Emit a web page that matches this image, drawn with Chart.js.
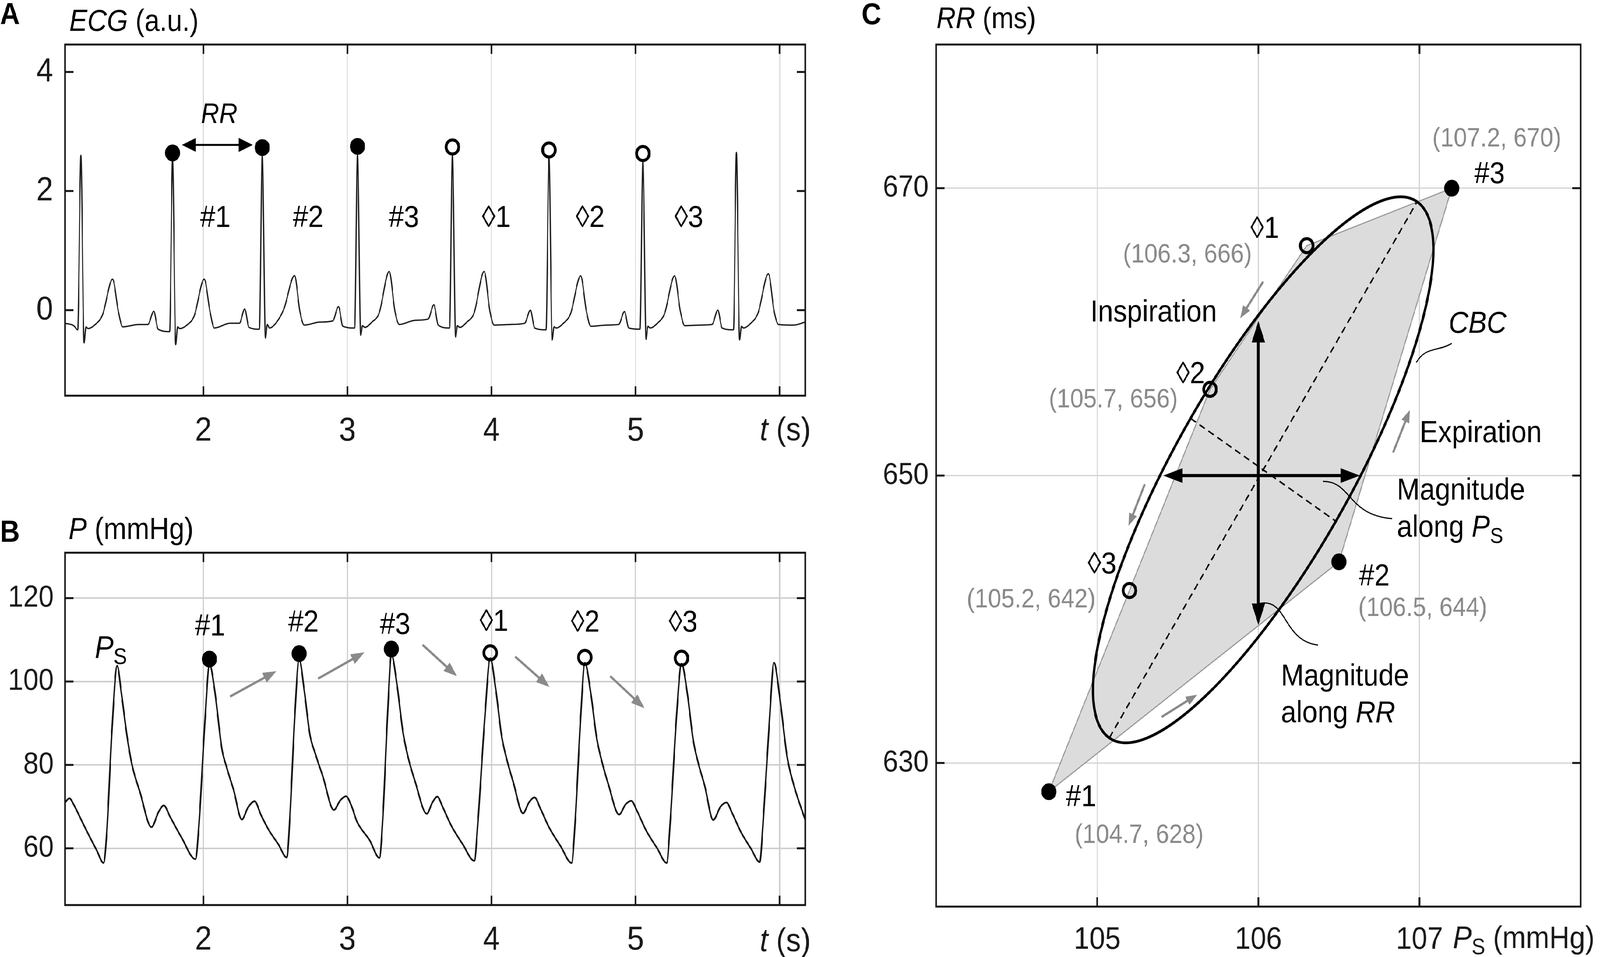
<!DOCTYPE html>
<html>
<head>
<meta charset="utf-8">
<script src="https://cdn.jsdelivr.net/npm/chart.js@4.4.1/dist/chart.umd.min.js"></script>
<style>
  html, body { margin: 0; padding: 0; background: #fff; overflow: hidden; }
  #page { width: 4550px; height: 2450px; position: relative; transform-origin: 0 0; }
  canvas { position: absolute; }
</style>
</head>
<body>
<div id="page">
<canvas id="ecg" width="2360" height="1200" style="left:0;top:0"></canvas>
<canvas id="bp" width="2360" height="1220" style="left:0;top:1230px"></canvas>
<canvas id="cbc" width="2170" height="2450" style="left:2380px;top:0"></canvas>
</div>
<script>
const FONT = '"Liberation Sans", Arial, Helvetica, sans-serif';
Chart.defaults.font.family = FONT;
Chart.defaults.color = '#1a1a1a';

// keep the whole figure in view if the window is not exactly 4550 x 2450
(function () {
  const sx = window.innerWidth / 4550, sy = window.innerHeight / 2450;
  if (Math.abs(sx - 1) > 0.01 || Math.abs(sy - 1) > 0.01) {
    document.getElementById('page').style.transform = 'scale(' + sx + ',' + sy + ')';
  }
})();

/* A: ECG trace */
const ecgT = [1.040, 1.100, 1.128,
  1.150, 1.172, 1.185, 1.200, 1.250, 1.300, 1.370, 1.410, 1.440, 1.550, 1.615,
  1.656, 1.686, 1.766,
  1.786, 1.808, 1.821, 1.836, 1.886, 1.936, 2.006, 2.046, 2.076, 2.186, 2.250,
  2.287, 2.317, 2.389,
  2.409, 2.431, 2.444, 2.459, 2.509, 2.559, 2.633, 2.670, 2.700, 2.810, 2.898,
  2.938, 2.968, 3.050,
  3.070, 3.092, 3.105, 3.120, 3.170, 3.220, 3.290, 3.330, 3.360, 3.470, 3.560,
  3.600, 3.630, 3.709,
  3.729, 3.751, 3.764, 3.779, 3.829, 3.879, 3.949, 3.989, 4.019, 4.130, 4.230,
  4.270, 4.300, 4.379,
  4.399, 4.421, 4.434, 4.449, 4.499, 4.549, 4.619, 4.659, 4.689, 4.800, 4.883,
  4.923, 4.953, 5.031,
  5.051, 5.073, 5.086, 5.101, 5.151, 5.201, 5.271, 5.311, 5.341, 5.450, 5.531,
  5.571, 5.601, 5.680,
  5.700, 5.722, 5.735, 5.750, 5.800, 5.850, 5.922, 5.962, 5.992, 6.100, 6.178];
const ecgV = [-0.22, -0.26, -0.33,
  2.60, -0.55, -0.28, -0.31, -0.24, -0.08, 0.52, -0.02, -0.28, -0.24, -0.24,
  -0.02, -0.32, -0.36,
  2.54, -0.58, -0.28, -0.31, -0.25, -0.10, 0.52, -0.02, -0.30, -0.22, -0.22,
  0.02, -0.29, -0.32,
  2.61, -0.47, -0.24, -0.30, -0.20, 0.02, 0.58, -0.02, -0.25, -0.20, -0.18,
  0.06, -0.27, -0.30,
  2.62, -0.42, -0.26, -0.29, -0.20, -0.05, 0.65, -0.02, -0.24, -0.17, -0.15,
  0.09, -0.25, -0.30,
  2.62, -0.45, -0.26, -0.29, -0.20, -0.05, 0.65, -0.02, -0.25, -0.24, -0.22,
  0.00, -0.30, -0.33,
  2.57, -0.50, -0.28, -0.30, -0.22, -0.06, 0.575, -0.02, -0.27, -0.25, -0.24,
  -0.025, -0.30, -0.32,
  2.50, -0.49, -0.27, -0.30, -0.22, -0.06, 0.575, -0.02, -0.26, -0.25, -0.24,
  0.00, -0.30, -0.33,
  2.65, -0.50, -0.27, -0.30, -0.22, -0.05, 0.61, -0.02, -0.24, -0.25, -0.20];
const timeTicks = [2, 3, 4, 5, 6];
const ecgTicks = [0, 2, 4];
const beatLabels = ['#1', '#2', '#3', '\u25CA1', '\u25CA2', '\u25CA3'];
const beatFilled = [true, true, true, false, false, false];
const rPeakT = [1.786, 2.409, 3.070, 3.729, 4.399, 5.051];
const rPeakV = [2.64, 2.73, 2.75, 2.74, 2.69, 2.63];

/* B: arterial pressure */
const bpT = [1.040, 1.070, 1.100, 1.150, 1.200, 1.260, 1.307, 1.330, 1.365, 1.402, 1.430, 1.470, 1.505, 1.560, 1.640, 1.690, 1.725, 1.770, 1.850, 1.945,
  1.970, 2.010, 2.043, 2.079, 2.128, 2.161, 2.210, 2.267, 2.310, 2.356, 2.400, 2.454, 2.520, 2.579,
  2.600, 2.635, 2.665, 2.700, 2.739, 2.780, 2.829, 2.906, 2.950, 2.990, 3.030, 3.065, 3.155, 3.222,
  3.245, 3.280, 3.305, 3.345, 3.385, 3.420, 3.470, 3.551, 3.590, 3.624, 3.660, 3.720, 3.800, 3.881,
  3.905, 3.955, 3.991, 4.030, 4.070, 4.105, 4.150, 4.219, 4.260, 4.299, 4.340, 4.400, 4.480, 4.556,
  4.580, 4.620, 4.648, 4.690, 4.730, 4.765, 4.810, 4.886, 4.930, 4.970, 5.010, 5.070, 5.150, 5.216,
  5.240, 5.285, 5.319, 5.360, 5.400, 5.435, 5.480, 5.539, 5.590, 5.631, 5.670, 5.730, 5.800, 5.862,
  5.885, 5.930, 5.961, 6.000, 6.052, 6.100, 6.178];
const bpV = [71.0, 72.0, 70.5, 67.0, 63.5, 59.5, 56.5, 64.0, 88.0, 103.8, 97.5, 87.0, 80.0, 73.5, 65.1, 68.8, 70.3, 67.5, 62.5, 57.4,
  66.0, 90.0, 104.1, 97.8, 84.0, 79.5, 74.0, 66.9, 69.8, 71.3, 68.0, 64.4, 61.0, 57.8,
  67.0, 92.0, 105.4, 98.0, 87.4, 82.4, 77.3, 69.2, 71.5, 72.5, 70.0, 66.5, 61.9, 57.7,
  67.0, 93.0, 106.5, 99.0, 88.0, 82.0, 76.0, 68.3, 71.0, 72.4, 70.0, 65.5, 61.0, 57.0,
  66.0, 92.0, 105.6, 98.0, 87.0, 81.5, 76.0, 68.4, 71.0, 72.2, 69.5, 65.0, 60.5, 56.5,
  66.0, 92.0, 104.5, 97.0, 86.5, 81.0, 75.5, 68.1, 70.5, 71.4, 69.0, 64.5, 60.0, 56.5,
  66.0, 92.0, 104.3, 97.0, 86.0, 80.5, 75.0, 66.8, 70.0, 71.0, 68.5, 64.0, 60.0, 56.7,
  66.0, 91.0, 104.5, 96.5, 82.0, 75.0, 66.8];
const bpTicks = [60, 80, 100, 120];
const psT = [2.042, 2.665, 3.305, 3.991, 4.648, 5.319];
const psV = [105.4, 106.7, 107.8, 106.9, 105.8, 105.6];

/* C: Ps vs RR loop */
const cbcPs = [104.7, 106.5, 107.2, 106.3, 105.7, 105.2];
const cbcRR = [628, 644, 670, 666, 656, 642];
const cbcOrder = [0, 1, 2, 3, 4, 5, 0];
const psTicks = [105, 106, 107];
const rrTicks = [630, 650, 670];
const ellCenter = [106.03, 650.4];
const ellMajorEnd = [106.985, 669.06];
const ellMinorEnd = [106.481, 646.82];
const magAlongPs = [105.41, 106.63];
const magAlongRR = [639.6, 660.76];

function pts(xs, ys) { return xs.map((v, i) => ({ x: v, y: ys[i] })); }
function setTicks(vals) { return s => { s.ticks = vals.map(v => ({ value: v })); }; }
function fixSize(n) { return s => { if (s.isHorizontal()) s.height = n; else s.width = n; }; }

function rich(ctx, x, y, segs, size, align, color) {
  ctx.save();
  ctx.fillStyle = color;
  ctx.textBaseline = 'alphabetic';
  ctx.textAlign = 'left';
  const parts = segs.map(([s, st]) => {
    const sz = st === 's' ? size * 0.72 : size;
    const f = (st === 'i' ? 'italic ' : '') + sz + 'px ' + FONT;
    ctx.font = f;
    return { s, f, w: ctx.measureText(s).width, dy: st === 's' ? size * 0.2 : 0 };
  });
  const total = parts.reduce((a, p) => a + p.w, 0);
  let cx = align === 'center' ? x - total / 2 : align === 'right' ? x - total : x;
  parts.forEach(p => { ctx.font = p.f; ctx.fillText(p.s, cx, y + p.dy); cx += p.w; });
  ctx.restore();
}
function richC(ctx, x, y, segs, size, align, color) { rich(ctx, x, y + size * 0.36, segs, size, align, color); }

function arrow(ctx, x1, y1, x2, y2, o) {
  const a = Math.atan2(y2 - y1, x2 - x1);
  const cs = Math.cos(a), sn = Math.sin(a);
  ctx.save();
  ctx.strokeStyle = o.color; ctx.fillStyle = o.color;
  ctx.lineWidth = o.lw;
  const back = o.len * 0.7;
  ctx.beginPath();
  ctx.moveTo(o.both ? x1 + back * cs : x1, o.both ? y1 + back * sn : y1);
  ctx.lineTo(x2 - back * cs, y2 - back * sn);
  ctx.stroke();
  const head = (hx, hy, c, s) => {
    ctx.beginPath();
    ctx.moveTo(hx, hy);
    ctx.lineTo(hx - o.len * c + o.hw * s, hy - o.len * s - o.hw * c);
    ctx.lineTo(hx - o.len * c - o.hw * s, hy - o.len * s + o.hw * c);
    ctx.closePath();
    ctx.fill();
  };
  head(x2, y2, cs, sn);
  if (o.both) head(x1, y1, -cs, -sn);
  ctx.restore();
}

// box with inward ticks on all four sides
const frame = {
  id: 'frame',
  afterDraw(chart) {
    const { ctx, chartArea: a, scales: { x, y } } = chart;
    const L = 24;
    ctx.save();
    ctx.strokeStyle = '#151515';
    ctx.lineWidth = 5;
    ctx.strokeRect(a.left, a.top, a.right - a.left, a.bottom - a.top);
    ctx.beginPath();
    x.ticks.forEach(t => {
      const p = x.getPixelForValue(t.value);
      ctx.moveTo(p, a.bottom); ctx.lineTo(p, a.bottom - L);
      ctx.moveTo(p, a.top); ctx.lineTo(p, a.top + L);
    });
    y.ticks.forEach(t => {
      const p = y.getPixelForValue(t.value);
      ctx.moveTo(a.left, p); ctx.lineTo(a.left + L, p);
      ctx.moveTo(a.right, p); ctx.lineTo(a.right - L, p);
    });
    ctx.stroke();
    ctx.restore();
  }
};

function baseOptions(pad, xCfg, yCfg) {
  return {
    animation: false, responsive: false, devicePixelRatio: 1,
    layout: { padding: pad },
    plugins: { legend: { display: false }, tooltip: { enabled: false } },
    scales: { x: xCfg, y: yCfg }
  };
}

function markerSet(xs, ys) {
  return {
    data: pts(xs, ys),
    pointRadius: beatFilled.map(f => f ? 20 : 18),
    pointBackgroundColor: beatFilled.map(f => f ? '#000' : 'rgba(255,255,255,0)'),
    pointBorderColor: '#000',
    pointBorderWidth: beatFilled.map(f => f ? 3 : 8),
    showLine: false
  };
}

/* ---------- Panel A ---------- */
const annotA = {
  id: 'annotA',
  afterDatasetsDraw(chart) {
    const { ctx, scales: { x, y } } = chart;
    arrow(ctx, x.getPixelForValue(1.851), y.getPixelForValue(2.775), x.getPixelForValue(2.343), y.getPixelForValue(2.775),
      { color: '#000', lw: 5, len: 40, hw: 18, both: true });
    richC(ctx, x.getPixelForValue(2.11), y.getPixelForValue(3.31), [['RR', 'i']], 72, 'center', '#000');
    const lx = [2.083, 2.727, 3.392, 4.033, 4.685, 5.37];
    beatLabels.forEach((s, i) => richC(ctx, x.getPixelForValue(lx[i]), y.getPixelForValue(1.58), [[s, '']], 78, 'center', '#000'));
  },
  afterDraw(chart) {
    const { ctx, chartArea: a, scales: { x } } = chart;
    ctx.save(); ctx.fillStyle = '#000'; ctx.font = 'bold 78px ' + FONT; ctx.fillText('A', 0, 62); ctx.restore();
    rich(ctx, 197, 79, [['ECG', 'i'], [' (a.u.)', '']], 77, 'left', '#000');
    rich(ctx, x.getPixelForValue(6) + 16, a.bottom + 114, [['t', 'i'], [' (s)', '']], 84, 'center', '#1a1a1a');
  }
};

new Chart(document.getElementById('ecg'), {
  type: 'scatter',
  data: {
    datasets: [
      markerSet(rPeakT, rPeakV),
      { data: pts(ecgT, ecgV), showLine: true, borderColor: '#1e1e1e', borderWidth: 3.5, pointRadius: 0, cubicInterpolationMode: 'monotone' }
    ]
  },
  options: baseOptions({ top: 114, right: 70, left: 0, bottom: 0 },
    { type: 'linear', min: 1.04, max: 6.178, afterBuildTicks: setTicks(timeTicks), afterFit: fixSize(187),
      border: { display: false }, grid: { color: '#dadada', lineWidth: 3, drawTicks: false },
      ticks: { padding: 40, autoSkip: false, maxRotation: 0, font: { size: 86 }, callback: v => v === 6 ? '' : v } },
    { type: 'linear', min: -1.436, max: 4.46, afterBuildTicks: setTicks(ecgTicks), afterFit: fixSize(185),
      border: { display: false }, grid: { display: false, drawTicks: false },
      ticks: { padding: 34, font: { size: 86 } } }),
  plugins: [frame, annotA]
});

/* ---------- Panel B ---------- */
const annotB = {
  id: 'annotB',
  afterDatasetsDraw(chart) {
    const { ctx, scales: { x, y } } = chart;
    const arrows = [[2.185, 96.4, 2.507, 102.5], [2.796, 100.7, 3.118, 107.0], [3.522, 108.8, 3.760, 101.3],
      [4.164, 106.0, 4.402, 98.7], [4.824, 101.3, 5.062, 93.6]];
    arrows.forEach(r => arrow(ctx, x.getPixelForValue(r[0]), y.getPixelForValue(r[1]), x.getPixelForValue(r[2]), y.getPixelForValue(r[3]),
      { color: '#8a8a8a', lw: 6, len: 38, hw: 14 }));
    richC(ctx, x.getPixelForValue(1.358), y.getPixelForValue(108.4), [['P', 'i'], ['S', 's']], 80, 'center', '#000');
    const lx = [2.047, 2.695, 3.331, 4.017, 4.651, 5.33];
    const ly = [113.7, 114.6, 114.0, 114.8, 114.6, 114.6];
    beatLabels.forEach((s, i) => richC(ctx, x.getPixelForValue(lx[i]), y.getPixelForValue(ly[i]), [[s, '']], 78, 'center', '#000'));
  },
  afterDraw(chart) {
    const { ctx, chartArea: a, scales: { x } } = chart;
    ctx.save(); ctx.fillStyle = '#000'; ctx.font = 'bold 78px ' + FONT; ctx.fillText('B', 0, 157); ctx.restore();
    rich(ctx, 195, 150, [['P', 'i'], [' (mmHg)', '']], 78, 'left', '#000');
    rich(ctx, x.getPixelForValue(6) + 16, a.bottom + 118, [['t', 'i'], [' (s)', '']], 84, 'center', '#1a1a1a');
  }
};

new Chart(document.getElementById('bp'), {
  type: 'scatter',
  data: {
    datasets: [
      markerSet(psT, psV),
      { data: pts(bpT, bpV), showLine: true, borderColor: '#141414', borderWidth: 4.5, pointRadius: 0, cubicInterpolationMode: 'monotone' }
    ]
  },
  options: baseOptions({ top: 185, right: 70, left: 0, bottom: 0 },
    { type: 'linear', min: 1.04, max: 6.178, afterBuildTicks: setTicks(timeTicks), afterFit: fixSize(133),
      border: { display: false }, grid: { color: '#cfcfcf', lineWidth: 4, drawTicks: false },
      ticks: { padding: 39, autoSkip: false, maxRotation: 0, font: { size: 86 }, callback: v => v === 6 ? '' : v } },
    { type: 'linear', min: 46.4, max: 130.9, afterBuildTicks: setTicks(bpTicks), afterFit: fixSize(185),
      border: { display: false }, grid: { color: '#cfcfcf', lineWidth: 4, drawTicks: false },
      ticks: { padding: 32, font: { size: 78 } } }),
  plugins: [frame, annotB]
});

/* ---------- Panel C ---------- */
const annotC = {
  id: 'annotC',
  afterDatasetDraw(chart, args) {
    if (args.index !== 1) return;
    const { ctx, scales: { x, y } } = chart;
    const P = (a, b) => [x.getPixelForValue(a), y.getPixelForValue(b)];
    const c = P(ellCenter[0], ellCenter[1]);
    const mj = P(ellMajorEnd[0], ellMajorEnd[1]);
    const mn = P(ellMinorEnd[0], ellMinorEnd[1]);
    const u = [mj[0] - c[0], mj[1] - c[1]], v = [mn[0] - c[0], mn[1] - c[1]];
    ctx.save();
    ctx.strokeStyle = '#000';
    ctx.setLineDash([18, 12]);
    ctx.lineWidth = 4;
    ctx.beginPath();
    ctx.moveTo(c[0] - u[0], c[1] - u[1]); ctx.lineTo(c[0] + u[0], c[1] + u[1]);
    ctx.moveTo(c[0] - v[0], c[1] - v[1]); ctx.lineTo(c[0] + v[0], c[1] + v[1]);
    ctx.stroke();
    ctx.setLineDash([]);
    // CBC ellipse from conjugate semi-axes
    ctx.beginPath();
    ctx.save();
    ctx.transform(u[0], u[1], v[0], v[1], c[0], c[1]);
    ctx.arc(0, 0, 1, 0, Math.PI * 2);
    ctx.restore();
    ctx.lineWidth = 7;
    ctx.stroke();
    // magnitude cross
    const o = P(106, 650);
    const cross = { color: '#000', lw: 8, len: 55, hw: 19 };
    arrow(ctx, o[0], o[1], x.getPixelForValue(magAlongPs[0]), o[1], cross);
    arrow(ctx, o[0], o[1], x.getPixelForValue(magAlongPs[1]), o[1], cross);
    arrow(ctx, o[0], o[1], o[0], y.getPixelForValue(magAlongRR[0]), cross);
    arrow(ctx, o[0], o[1], o[0], y.getPixelForValue(magAlongRR[1]), cross);
    // leader curves
    ctx.lineWidth = 3;
    const leaders = [
      [106.98, 657.87, 107.04, 659.0, 107.11, 658.6, 107.2, 659.2],
      [106.40, 649.6, 106.58, 649.6, 106.55, 647.26, 106.83, 647.0],
      [106.01, 641.1, 106.18, 641.5, 106.15, 638.5, 106.37, 638.2]
    ];
    leaders.forEach(l => {
      const p0 = P(l[0], l[1]), p1 = P(l[2], l[3]), p2 = P(l[4], l[5]), p3 = P(l[6], l[7]);
      ctx.beginPath(); ctx.moveTo(p0[0], p0[1]); ctx.bezierCurveTo(p1[0], p1[1], p2[0], p2[1], p3[0], p3[1]); ctx.stroke();
    });
    // direction arrows
    const dirs = [[106.03, 663.5, 105.887, 660.95], [105.295, 649.4, 105.194, 646.5],
      [105.40, 633.2, 105.62, 634.75], [106.836, 651.6, 106.94, 654.56]];
    dirs.forEach(r => {
      const a = P(r[0], r[1]), b = P(r[2], r[3]);
      arrow(ctx, a[0], a[1], b[0], b[1], { color: '#8a8a8a', lw: 6, len: 32, hw: 12 });
    });
    ctx.restore();
  },
  afterDraw(chart) {
    const { ctx, chartArea: a, scales: { x, y } } = chart;
    ctx.save(); ctx.fillStyle = '#000'; ctx.font = 'bold 78px ' + FONT; ctx.fillText('C', 70, 62); ctx.restore();
    rich(ctx, 283, 72, [['RR', 'i'], [' (ms)', '']], 76, 'left', '#000');
    rich(ctx, x.getPixelForValue(107) + 95, a.bottom + 106, [['P', 'i'], ['S', 's'], [' (mmHg)', '']], 80, 'left', '#1a1a1a');
    const K = '#000', G = '#8a8a8a';
    const notes = [
      [107.48, 673.57, [['(107.2, 670)', '']], G, 'center'],
      [107.34, 671.1, [['#3', '']], K, 'left'],
      [106.04, 667.3, [['\u25CA1', '']], K, 'center'],
      [105.56, 665.5, [['(106.3, 666)', '']], G, 'center'],
      [105.35, 661.5, [['Inspiration', '']], K, 'center'],
      [107.36, 660.7, [['CBC', 'i']], K, 'center'],
      [105.58, 657.2, [['\u25CA2', '']], K, 'center'],
      [105.10, 655.4, [['(105.7, 656)', '']], G, 'center'],
      [107.38, 653.1, [['Expiration', '']], K, 'center'],
      [106.86, 649.1, [['Magnitude', '']], K, 'left'],
      [106.86, 646.5, [['along ', ''], ['P', 'i'], ['S', 's']], K, 'left'],
      [105.03, 643.95, [['\u25CA3', '']], K, 'center'],
      [104.59, 641.5, [['(105.2, 642)', '']], G, 'center'],
      [106.72, 643.1, [['#2', '']], K, 'center'],
      [107.02, 640.9, [['(106.5, 644)', '']], G, 'center'],
      [106.14, 636.15, [['Magnitude', '']], K, 'left'],
      [106.14, 633.6, [['along ', ''], ['RR', 'i']], K, 'left'],
      [104.90, 627.75, [['#1', '']], K, 'center'],
      [105.26, 625.1, [['(104.7, 628)', '']], G, 'center']
    ];
    notes.forEach(n => richC(ctx, x.getPixelForValue(n[0]), y.getPixelForValue(n[1]), n[2], n[3] === G ? 68 : 78, n[4], n[3]));
  }
};

new Chart(document.getElementById('cbc'), {
  type: 'scatter',
  data: {
    datasets: [
      markerSet(cbcPs, cbcRR),
      { data: pts(cbcOrder.map(i => cbcPs[i]), cbcOrder.map(i => cbcRR[i])), showLine: true, fill: 'shape',
        backgroundColor: '#dcdcdc', borderColor: '#9a9a9a', borderWidth: 3, pointRadius: 0, tension: 0 }
    ]
  },
  options: baseOptions({ top: 114, right: 55, left: 0, bottom: 0 },
    { type: 'linear', min: 104, max: 108, afterBuildTicks: setTicks(psTicks), afterFit: fixSize(129),
      border: { display: false }, grid: { color: '#d2d2d2', lineWidth: 3, drawTicks: false },
      ticks: { padding: 38, autoSkip: false, maxRotation: 0, font: { size: 80 } } },
    { type: 'linear', min: 620, max: 680, afterBuildTicks: setTicks(rrTicks), afterFit: fixSize(282),
      border: { display: false }, grid: { color: '#d2d2d2', lineWidth: 3, drawTicks: false },
      ticks: { padding: 21, font: { size: 78 } } }),
  plugins: [frame, annotC]
});
</script>
</body>
</html>
